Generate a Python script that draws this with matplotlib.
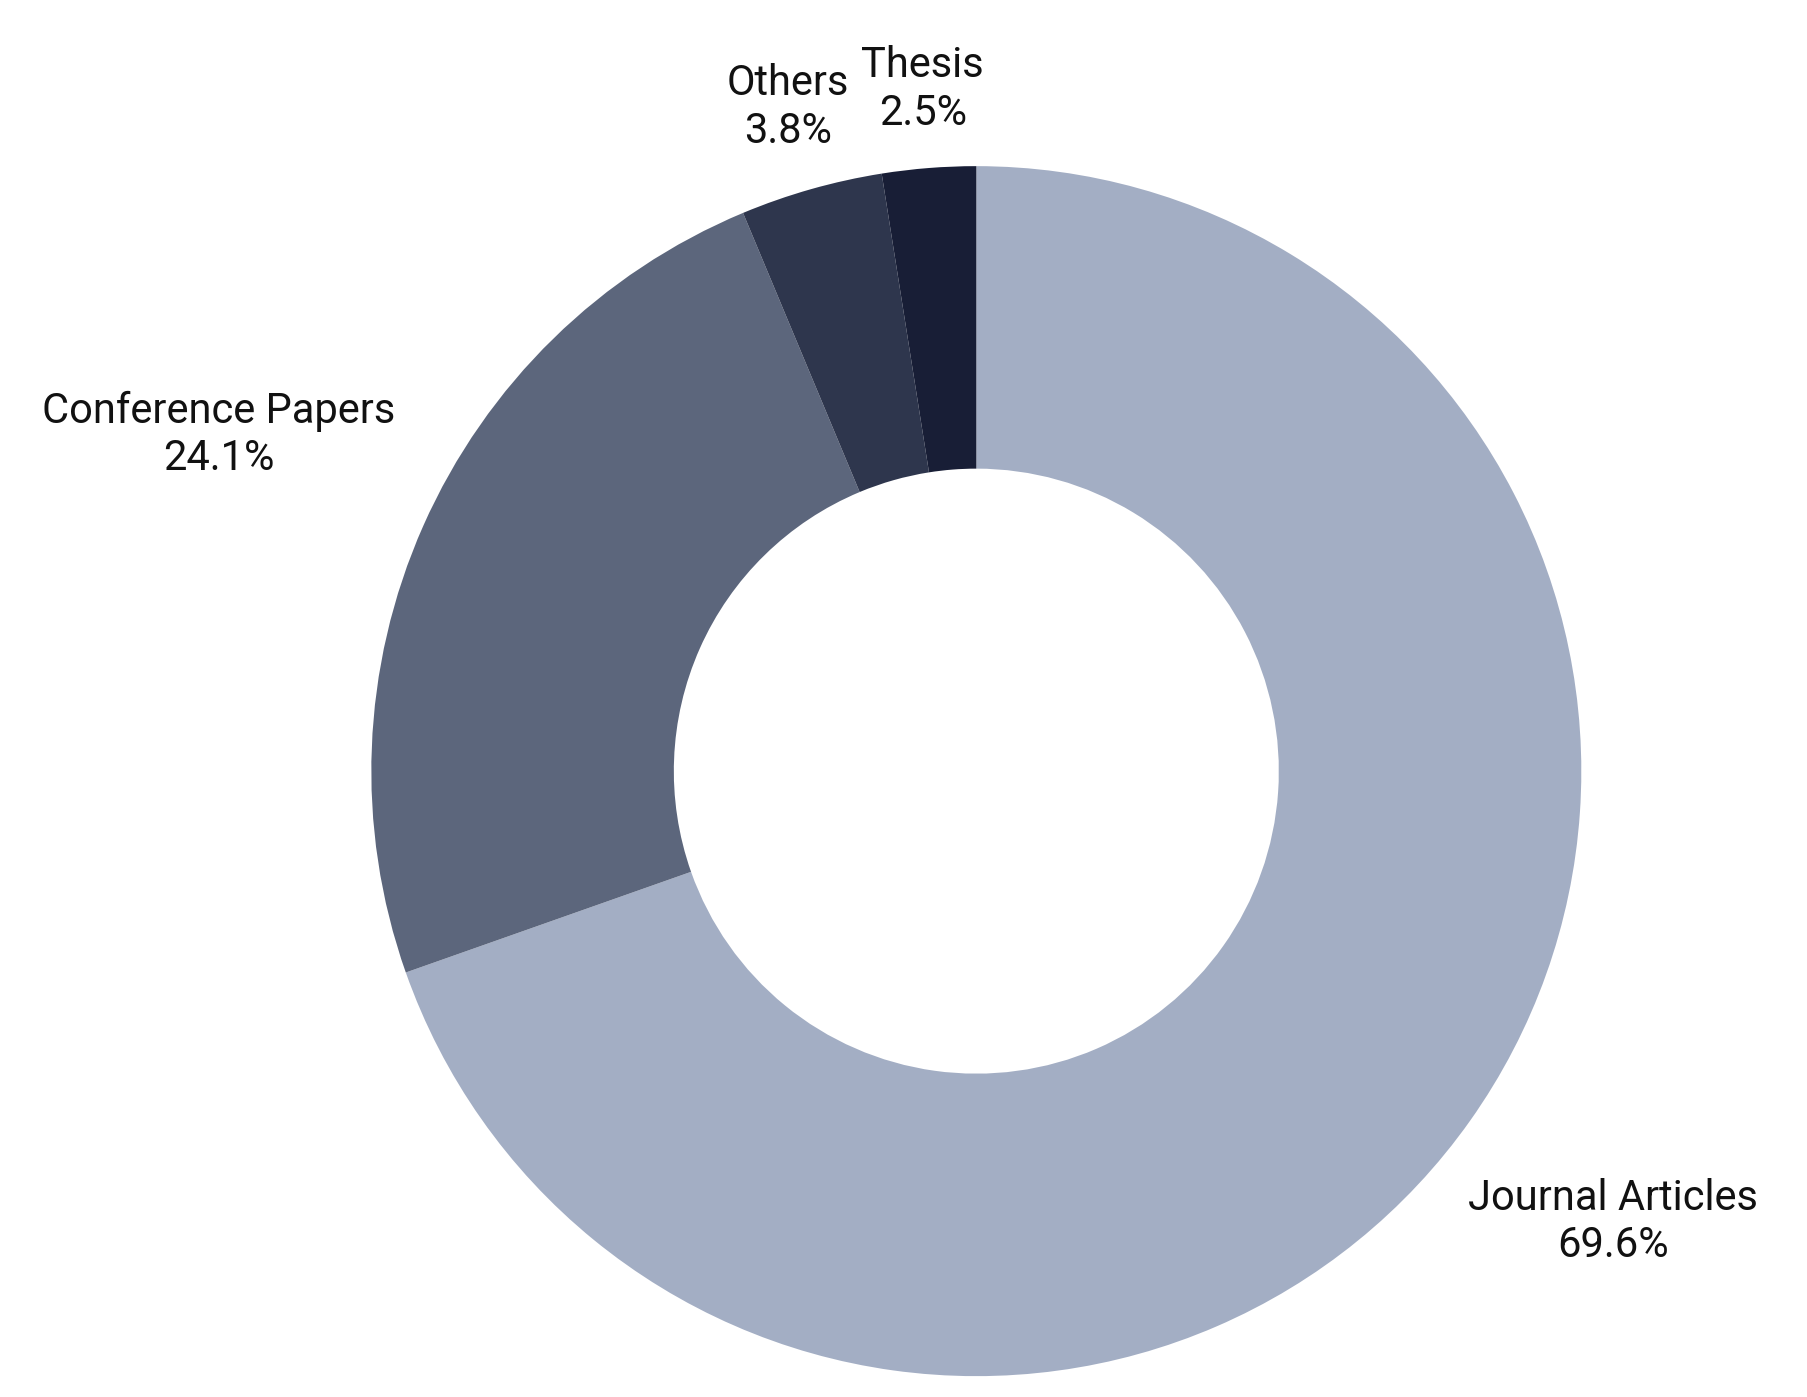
"""
Donut chart of publication types.
"""
import matplotlib
matplotlib.use('Agg')
import matplotlib.pyplot as plt
import numpy as np

plt.rcParams['font.family'] = ['Roboto', 'DejaVu Sans']

# ============================================================
# DATA
# ============================================================
categories = ['Journal Articles', 'Conference Papers', 'Others', 'Thesis']
shares = [69.6, 24.1, 3.8, 2.5]
colors = ['#A3AEC4', '#5C667C', '#2E364D', '#181E36']
label_dist = [1.29, 1.37, 1.14, 1.13]

# ============================================================
# FIGURE
# ============================================================
W, H = 1808, 1397
fig = plt.figure(figsize=(W / 100, H / 100), dpi=100, facecolor='white')
cx, cy, r = 0.54, 0.448, 605
ax = fig.add_axes([cx - r / W, cy - r / H, 2 * r / W, 2 * r / H])

wedges, _ = ax.pie(shares, colors=colors, startangle=90, counterclock=False,
                   radius=1.0, wedgeprops=dict(width=0.5, edgecolor='none'))
ax.set_xlim(-1, 1)
ax.set_ylim(-1, 1)
ax.set_aspect('equal')
ax.axis('off')

for w, name, val, d in zip(wedges, categories, shares, label_dist):
    ang = np.deg2rad((w.theta1 + w.theta2) / 2)
    ax.text(d * np.cos(ang), d * np.sin(ang), f'{name}\n{val:.1f}%',
            ha='center', va='center', fontsize=30, color='#111111',
            linespacing=1.2, clip_on=False)

fig.savefig('out.png', dpi=100, facecolor='white')
